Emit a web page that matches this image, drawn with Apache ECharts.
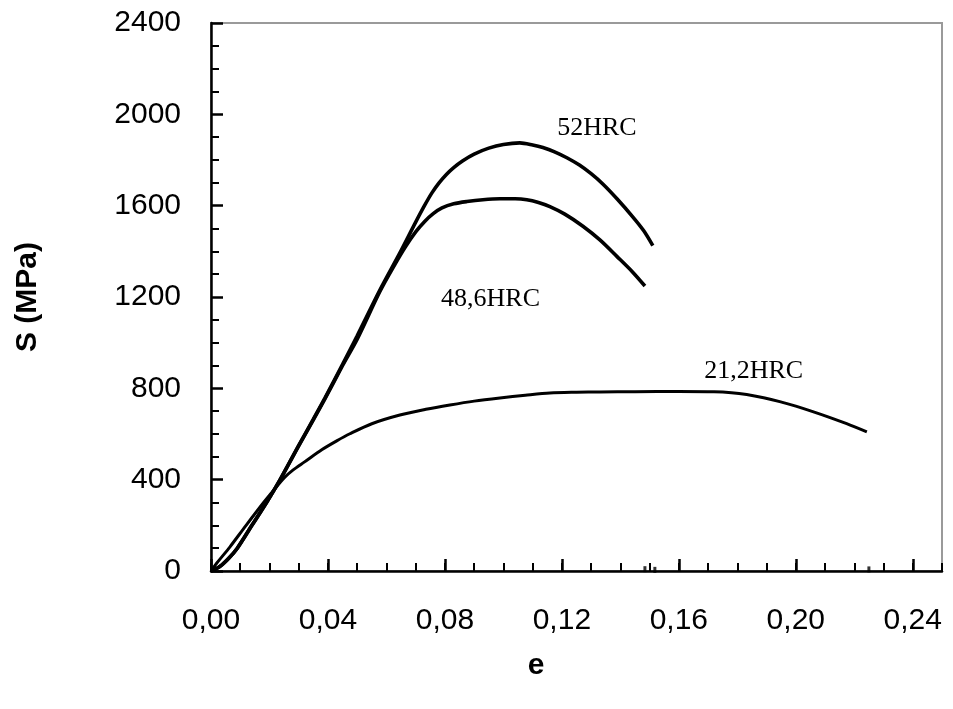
<!DOCTYPE html>
<html>
<head>
<meta charset="utf-8">
<title>S - e</title>
<script src="https://cdn.jsdelivr.net/npm/echarts@6/dist/echarts.min.js"></script>
<style>
  html, body { margin: 0; padding: 0; background: #fff; }
  #chart { width: 953px; height: 709px; }
</style>
</head>
<body>
<div id="chart"></div>
<script>
// Stress-strain curves for three hardness levels
const seriesNames = ['52HRC', '48,6HRC', '21,2HRC'];

const strain52 = [0, 0.003, 0.006, 0.009, 0.014, 0.019, 0.0236, 0.030, 0.035, 0.039, 0.045, 0.050, 0.0578, 0.0646, 0.0700, 0.0730, 0.0755, 0.0780, 0.0805, 0.0830, 0.0860, 0.0900, 0.0950, 0.1000, 0.1056, 0.1100, 0.1135, 0.1175, 0.1217, 0.1260, 0.1300, 0.1340, 0.1390, 0.1443, 0.1480, 0.1511];
const stress52 = [0, 20, 55, 100, 200, 300, 399, 550, 665, 758, 905, 1030, 1231, 1393, 1528, 1600, 1655, 1700, 1737, 1767, 1796, 1826, 1852, 1868, 1875, 1866, 1855, 1836, 1810, 1778, 1740, 1695, 1628, 1550, 1490, 1425];

const strain486 = [0, 0.003, 0.006, 0.009, 0.014, 0.019, 0.0236, 0.030, 0.035, 0.039, 0.045, 0.050, 0.0578, 0.0630, 0.0665, 0.0700, 0.0730, 0.0760, 0.0790, 0.0830, 0.0875, 0.0930, 0.0988, 0.1040, 0.1080, 0.1120, 0.1159, 0.1210, 0.1272, 0.1330, 0.1388, 0.1440, 0.1484];
const stress486 = [0, 20, 55, 100, 200, 300, 399, 548, 662, 755, 900, 1015, 1225, 1345, 1420, 1485, 1530, 1565, 1590, 1608, 1618, 1626, 1630, 1630, 1626, 1614, 1596, 1563, 1510, 1450, 1378, 1312, 1248];

const strain212 = [0, 0.002, 0.0065, 0.012, 0.018, 0.0215, 0.025, 0.028, 0.032, 0.038, 0.043, 0.0475, 0.055, 0.0646, 0.0735, 0.0817, 0.090, 0.0988, 0.1075, 0.1159, 0.125, 0.133, 0.145, 0.160, 0.172, 0.178, 0.1832, 0.189, 0.1945, 0.200, 0.2058, 0.2115, 0.2174, 0.2243];
const stress212 = [0, 35, 106, 200, 300, 355, 408, 442, 478, 532, 570, 601, 645, 683, 708, 727, 744, 758, 770, 780, 783, 784, 785, 786, 785, 781, 773, 759, 742, 722, 698, 673, 645, 609];

// Fracture marks left on the strain axis
const fractureStrain = [0.1484, 0.1518, 0.2250];
const fractureStress = [8, 5, 7];

const xTickValues = [0, 0.04, 0.08, 0.12, 0.16, 0.20, 0.24];
const yTickValues = [0, 400, 800, 1200, 1600, 2000, 2400];

const pairs = (xs, ys) => xs.map((x, i) => [x, ys[i]]);
const comma = v => v.toFixed(2).replace('.', ',');

const chart = echarts.init(document.getElementById('chart'), null, { renderer: 'canvas' });

const lineStyleOf = w => ({ color: '#000', width: w });
const curveLabel = (name, coord) => ({
  symbol: 'circle',
  symbolSize: 0,
  silent: true,
  label: {
    show: true,
    position: 'inside',
    formatter: name,
    color: '#000',
    fontFamily: 'Liberation Serif',
    fontSize: 26
  },
  data: [{ coord: coord }]
});

chart.setOption({
  animation: false,
  backgroundColor: '#fff',
  grid: {
    left: 211, right: 11, top: 23, bottom: 138,
    show: true, borderColor: '#9a9a9a', borderWidth: 2
  },
  xAxis: [
    {
      type: 'value', min: 0, max: 0.25, interval: 0.01,
      name: 'e', nameLocation: 'middle', nameGap: 80,
      nameTextStyle: { fontFamily: 'Liberation Sans', fontWeight: 'bold', fontSize: 30, color: '#000', padding: [0, 81, 0, 0] },
      axisLine: { show: true, lineStyle: { color: '#000', width: 2.5 } },
      axisTick: { show: true, inside: true, length: 8, lineStyle: { color: '#000', width: 2 } },
      axisLabel: {
        show: true, margin: 35, customValues: xTickValues,
        formatter: v => comma(v),
        fontFamily: 'Liberation Sans', fontSize: 30, color: '#000'
      },
      splitLine: { show: false }
    },
    {
      type: 'value', min: 0, max: 0.25, position: 'bottom',
      axisLine: { show: false },
      axisTick: { show: true, inside: true, length: 12, customValues: xTickValues, lineStyle: { color: '#000', width: 2.5 } },
      axisLabel: { show: false },
      splitLine: { show: false }
    }
  ],
  yAxis: {
    type: 'value', min: 0, max: 2400, interval: 400,
    name: 'S (MPa)', nameLocation: 'middle', nameGap: 168,
    nameTextStyle: { fontFamily: 'Liberation Sans', fontWeight: 'bold', fontSize: 30, color: '#000' },
    axisLine: { show: true, lineStyle: { color: '#000', width: 2.5 } },
    axisTick: { show: true, inside: true, length: 12, lineStyle: { color: '#000', width: 2.5 } },
    minorTick: { show: true, splitNumber: 4, length: 8, lineStyle: { color: '#000', width: 2 } },
    axisLabel: {
      margin: 30, customValues: yTickValues,
      formatter: v => String(v),
      fontFamily: 'Liberation Sans', fontSize: 30, color: '#000'
    },
    splitLine: { show: false },
    minorSplitLine: { show: false }
  },
  series: [
    {
      name: seriesNames[0], type: 'line', xAxisIndex: 0, data: pairs(strain52, stress52),
      showSymbol: false, smooth: 0.3, lineStyle: lineStyleOf(3.6), z: 5,
      markPoint: curveLabel(seriesNames[0], [0.132, 1940])
    },
    {
      name: seriesNames[1], type: 'line', xAxisIndex: 0, data: pairs(strain486, stress486),
      showSymbol: false, smooth: 0.3, lineStyle: lineStyleOf(3.6), z: 5,
      markPoint: curveLabel(seriesNames[1], [0.0956, 1190])
    },
    {
      name: seriesNames[2], type: 'line', xAxisIndex: 0, data: pairs(strain212, stress212),
      showSymbol: false, smooth: 0.3, lineStyle: lineStyleOf(3.0), z: 5,
      markPoint: curveLabel(seriesNames[2], [0.1856, 876])
    },
    {
      name: 'fracture', type: 'scatter', xAxisIndex: 0,
      data: pairs(fractureStrain, fractureStress),
      symbol: 'rect', symbolSize: [3, 6], itemStyle: { color: '#000' }, z: 6, silent: true
    }
  ]
});
</script>
</body>
</html>
